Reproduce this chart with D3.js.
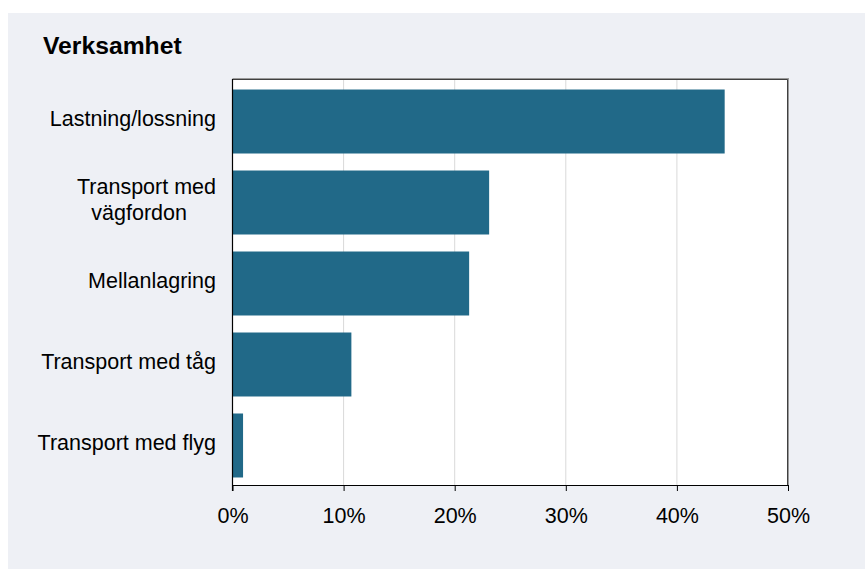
<!DOCTYPE html>
<html>
<head>
<meta charset="utf-8">
<script src="https://cdn.jsdelivr.net/npm/d3@7"></script>
<style>
  html, body { margin: 0; padding: 0; background: #ffffff; }
  svg { display: block; font-family: "Liberation Sans", Arial, sans-serif; }
</style>
</head>
<body>
<svg id="chart" width="865" height="569"></svg>
<script>
const title = "Verksamhet";
const categories = [["Lastning/lossning"], ["Transport med", "vägfordon"], ["Mellanlagring"], ["Transport med tåg"], ["Transport med flyg"]];
const values = [44.3, 23.1, 21.3, 10.7, 0.95];
const xTicks = [0, 10, 20, 30, 40, 50];

const svg = d3.select("#chart");
const W = 865, H = 569;
const m = { left: 232.5, right: 788, top: 79, bottom: 485 };

svg.append("rect").attr("x", 8).attr("y", 13).attr("width", W - 8).attr("height", H - 13).attr("fill", "#eef0f5");
svg.append("rect").attr("x", m.left).attr("y", m.top).attr("width", m.right - m.left).attr("height", m.bottom - m.top).attr("fill", "#ffffff");

svg.append("text").attr("x", 43).attr("y", 54).attr("font-size", 24.7).attr("font-weight", "bold").attr("fill", "#000").text(title);

const x = d3.scaleLinear().domain([0, 50]).range([m.left, m.right]);
const keys = categories.map((c, i) => i);
const y = d3.scaleBand().domain(keys).range([m.top + 1, m.bottom + 2]).paddingInner(0.21).paddingOuter(0.1175);

// gridlines
svg.append("g").selectAll("line").data(xTicks.filter(t => t > 0 && t < 50)).join("line")
  .attr("x1", d => x(d)).attr("x2", d => x(d)).attr("y1", m.top).attr("y2", m.bottom)
  .attr("stroke", "#d9d9d9").attr("stroke-width", 1);

// bars
svg.append("g").selectAll("rect").data(values).join("rect")
  .attr("x", x(0)).attr("y", (d, i) => y(i)).attr("width", d => x(d) - x(0)).attr("height", y.bandwidth())
  .attr("fill", "#216988");

// border top/right
svg.append("path").attr("d", `M${m.left},${m.top}H${m.right}V${m.bottom}`).attr("fill", "none").attr("stroke", "#9a9a9a").attr("stroke-width", 2);
svg.append("path").attr("d", `M${m.left},${m.top + 0.5}H${m.right - 0.5}V${m.bottom}`).attr("fill", "none").attr("stroke", "#404040").attr("stroke-width", 1);

// x axis
const xAxis = svg.append("g").attr("transform", `translate(0,${m.bottom})`)
  .call(d3.axisBottom(x).tickValues(xTicks).tickFormat(d => d + "%").tickSize(6).tickSizeOuter(0));
xAxis.select(".domain").attr("stroke", "#000").attr("stroke-width", 1.2);
xAxis.selectAll(".tick line").attr("stroke", "#000");
xAxis.selectAll(".tick text").attr("font-size", 21.5).attr("fill", "#000").attr("font-family", "Liberation Sans, Arial, sans-serif").attr("y", 0).attr("dy", 38);

// y axis line
svg.append("line").attr("x1", m.left).attr("x2", m.left).attr("y1", m.top).attr("y2", m.bottom + 6).attr("stroke", "#000").attr("stroke-width", 1.2);

// category labels
const lab = svg.append("g").selectAll("text").data(categories).join("text")
  .attr("text-anchor", "end").attr("font-size", 21.5).attr("fill", "#000")
  .attr("x", 216)
  .attr("y", (d, i) => y(i) + y.bandwidth() / 2);
lab.each(function(lines) {
  const t = d3.select(this);
  if (lines.length === 1) {
    t.append("tspan").attr("x", 216).attr("dy", "0.2em").text(lines[0]);
  } else {
    t.append("tspan").attr("x", 216).attr("dy", "-0.4em").text(lines[0]);
    t.append("tspan").attr("x", 187).attr("dy", "1.2em").text(lines[1]);
  }
});
</script>
</body>
</html>
